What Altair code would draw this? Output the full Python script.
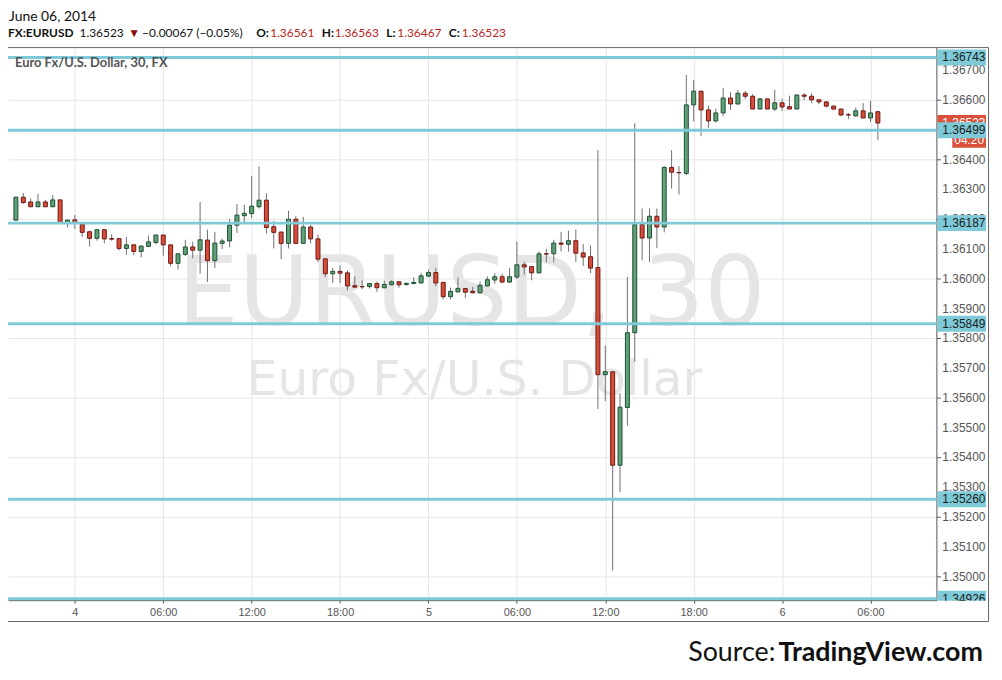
import altair as alt
import pandas as pd

# ---------------- data (EUR/USD, 30-minute candles) ----------------
candle_index = list(range(-8, 110))  # half-hours relative to June 4, 00:00

open_ = [1.36197, 1.36274, 1.36258, 1.36242, 1.36258, 1.36242, 1.36265, 1.36189,
         1.36198, 1.36184, 1.36158, 1.36136, 1.36165, 1.36135, 1.36135, 1.36102,
         1.36114, 1.36092, 1.36109, 1.36122, 1.36147, 1.36114, 1.36052, 1.36082,
         1.36107, 1.36096, 1.36130, 1.36061, 1.36119, 1.36127, 1.36180, 1.36212,
         1.36219, 1.36242, 1.36264, 1.36175, 1.36157, 1.36119, 1.36200, 1.36119,
         1.36174, 1.36134, 1.36067, 1.36017, 1.36025, 1.36020, 1.35977, 1.35974,
         1.35974, 1.35984, 1.35970, 1.35980, 1.35990, 1.35981, 1.35984, 1.35986,
         1.36009, 1.36021, 1.35988, 1.35940, 1.35956, 1.35967, 1.35958, 1.35953,
         1.35976, 1.35996, 1.36007, 1.35989, 1.36006, 1.36047, 1.36041, 1.36020,
         1.36084, 1.36084, 1.36120, 1.36116, 1.36128, 1.36087, 1.36074, 1.36038,
         1.35678, 1.35688, 1.35374, 1.35568, 1.35819, 1.36182, 1.36137, 1.36210,
         1.36174, 1.36374, 1.36357, 1.36354, 1.36584, 1.36630, 1.36567, 1.36530,
         1.36557, 1.36607, 1.36587, 1.36623, 1.36613, 1.36570, 1.36604, 1.36570,
         1.36591, 1.36578, 1.36570, 1.36617, 1.36613, 1.36601, 1.36594, 1.36580,
         1.36570, 1.36551, 1.36547, 1.36564, 1.36540, 1.36561]
high = [1.36276, 1.36288, 1.36270, 1.36285, 1.36265, 1.36281, 1.36265, 1.36198,
        1.36215, 1.36188, 1.36161, 1.36166, 1.36166, 1.36150, 1.36136, 1.36141,
        1.36115, 1.36111, 1.36145, 1.36148, 1.36148, 1.36115, 1.36085, 1.36131,
        1.36125, 1.36258, 1.36165, 1.36158, 1.36135, 1.36200, 1.36251, 1.36248,
        1.36345, 1.36378, 1.36287, 1.36195, 1.36158, 1.36228, 1.36211, 1.36208,
        1.36181, 1.36148, 1.36068, 1.36037, 1.36045, 1.36028, 1.36008, 1.35995,
        1.35985, 1.35991, 1.35994, 1.35995, 1.35991, 1.35986, 1.36005, 1.36020,
        1.36031, 1.36037, 1.35989, 1.35971, 1.36004, 1.35968, 1.35973, 1.35991,
        1.36008, 1.36019, 1.36017, 1.36036, 1.36125, 1.36057, 1.36043, 1.36092,
        1.36101, 1.36131, 1.36158, 1.36161, 1.36165, 1.36117, 1.36112, 1.36432,
        1.35776, 1.35688, 1.35616, 1.36006, 1.36522, 1.36236, 1.36236, 1.36236,
        1.36379, 1.36432, 1.36378, 1.36685, 1.36668, 1.36630, 1.36582, 1.36571,
        1.36641, 1.36627, 1.36634, 1.36631, 1.36620, 1.36608, 1.36605, 1.36635,
        1.36605, 1.36615, 1.36620, 1.36623, 1.36623, 1.36601, 1.36596, 1.36581,
        1.36571, 1.36557, 1.36575, 1.36590, 1.36598, 1.36563]
low = [1.36195, 1.36252, 1.36241, 1.36241, 1.36241, 1.36241, 1.36188, 1.36172,
       1.36167, 1.36141, 1.36108, 1.36128, 1.36119, 1.36128, 1.36095, 1.36081,
       1.36079, 1.36072, 1.36106, 1.36116, 1.36078, 1.36042, 1.36031, 1.36076,
       1.36069, 1.36017, 1.35989, 1.36036, 1.36100, 1.36106, 1.36154, 1.36189,
       1.36204, 1.36236, 1.36152, 1.36102, 1.36066, 1.36102, 1.36118, 1.36118,
       1.36119, 1.36056, 1.36006, 1.35986, 1.35986, 1.35961, 1.35970, 1.35965,
       1.35967, 1.35956, 1.35968, 1.35980, 1.35970, 1.35977, 1.35983, 1.35985,
       1.36006, 1.35975, 1.35931, 1.35931, 1.35955, 1.35936, 1.35951, 1.35951,
       1.35975, 1.35984, 1.35988, 1.35988, 1.35999, 1.36014, 1.35995, 1.36018,
       1.36055, 1.36055, 1.36092, 1.36091, 1.36057, 1.36043, 1.36019, 1.35563,
       1.35589, 1.35021, 1.35284, 1.35507, 1.35721, 1.36062, 1.36056, 1.36103,
       1.36156, 1.36303, 1.36283, 1.36348, 1.36529, 1.36479, 1.36506, 1.36525,
       1.36546, 1.36567, 1.36586, 1.36604, 1.36570, 1.36570, 1.36570, 1.36563,
       1.36563, 1.36570, 1.36570, 1.36600, 1.36590, 1.36587, 1.36575, 1.36566,
       1.36546, 1.36537, 1.36545, 1.36539, 1.36526, 1.36467]
close = [1.36274, 1.36256, 1.36242, 1.36258, 1.36242, 1.36265, 1.36189, 1.36197,
         1.36187, 1.36156, 1.36136, 1.36165, 1.36134, 1.36133, 1.36102, 1.36114,
         1.36092, 1.36110, 1.36124, 1.36147, 1.36114, 1.36052, 1.36084, 1.36107,
         1.36096, 1.36131, 1.36061, 1.36120, 1.36127, 1.36180, 1.36214, 1.36220,
         1.36244, 1.36264, 1.36172, 1.36156, 1.36119, 1.36200, 1.36119, 1.36174,
         1.36134, 1.36066, 1.36017, 1.36025, 1.36019, 1.35976, 1.35972, 1.35973,
         1.35984, 1.35970, 1.35981, 1.35990, 1.35980, 1.35985, 1.35988, 1.36010,
         1.36021, 1.35986, 1.35940, 1.35958, 1.35968, 1.35955, 1.35953, 1.35978,
         1.35997, 1.36007, 1.35989, 1.36007, 1.36047, 1.36040, 1.36020, 1.36084,
         1.36083, 1.36120, 1.36116, 1.36128, 1.36086, 1.36073, 1.36036, 1.35678,
         1.35688, 1.35374, 1.35569, 1.35819, 1.36182, 1.36137, 1.36210, 1.36174,
         1.36374, 1.36358, 1.36356, 1.36584, 1.36630, 1.36567, 1.36530, 1.36557,
         1.36607, 1.36587, 1.36623, 1.36613, 1.36570, 1.36604, 1.36570, 1.36591,
         1.36577, 1.36570, 1.36617, 1.36613, 1.36601, 1.36594, 1.36580, 1.36570,
         1.36550, 1.36550, 1.36564, 1.36540, 1.36557, 1.36523]

level_values = [1.36743, 1.36499, 1.36187, 1.35849, 1.35260, 1.34926]
level_labels = ["1.36743", "1.36499", "1.36187", "1.35849", "1.35260", "1.34926"]

y_tick_values = [1.350, 1.351, 1.352, 1.353, 1.354, 1.355, 1.356, 1.357, 1.358,
                 1.359, 1.360, 1.361, 1.362, 1.363, 1.364, 1.365, 1.366, 1.367]
y_tick_labels = ["1.35000", "1.35100", "1.35200", "1.35300", "1.35400", "1.35500",
                 "1.35600", "1.35700", "1.35800", "1.35900", "1.36000", "1.36100",
                 "1.36200", "1.36300", "1.36400", "1.36500", "1.36600", "1.36700"]
x_tick_values = [0, 12, 24, 36, 48, 60, 72, 84, 96, 108]
x_tick_labels = ["4", "06:00", "12:00", "18:00", "5", "06:00", "12:00", "18:00", "6", "06:00"]

last_price = [1.36523]
last_price_label = "1.36523"
countdown_label = "04:20"

date_text = "June 06, 2014"
# (text, x, bold, color)
header_segments = [
    ("FX:EURUSD", 0, True, "#111111"),
    ("1.36523", 72, False, "#111111"),
    ("\u25BC", 121, False, "#8b0a0a"),
    ("\u22120.00067 (\u22120.05%)", 135, False, "#111111"),
    ("O:", 250, True, "#111111"),
    ("1.36561", 264, False, "#b3261e"),
    ("H:", 316, True, "#111111"),
    ("1.36563", 329, False, "#b3261e"),
    ("L:", 381, True, "#111111"),
    ("1.36467", 392, False, "#b3261e"),
    ("C:", 444, True, "#111111"),
    ("1.36523", 457, False, "#b3261e"),
]
symbol_label = "Euro Fx/U.S. Dollar, 30, FX"
watermark_big = "EURUSD, 30"
watermark_small = "Euro Fx/U.S. Dollar"
source_plain = "Source:"
source_bold = "TradingView.com"

# ---------------- chart ----------------
W, H = 935, 557
GREEN, GREEN_EDGE = "#5fa078", "#1e5032"
RED, RED_EDGE = "#d64c3a", "#6e1912"
CYAN = "#7fcad8"
UI_FONT = "Lato"
AXIS_FONT = "Liberation Sans"

df = pd.DataFrame({"i": candle_index, "open": open_, "high": high, "low": low, "close": close})
df["dir"] = ["up" if c >= o else "down" for o, c in zip(open_, close)]
levels_df = pd.DataFrame({"level": level_values, "label": level_labels})
yticks_df = pd.DataFrame({"v": y_tick_values, "label": y_tick_labels})
price_df = pd.DataFrame({"price": last_price, "label": [last_price_label], "cd": [countdown_label]})
one = pd.DataFrame({"k": [0]})

xs = alt.Scale(domain=[-8.4, 116.27], nice=False, zero=False)
ys = alt.Scale(domain=[1.34921, 1.36778], nice=False, zero=False)

label_expr = "[" + ",".join("'" + s + "'" for s in x_tick_labels) + "][datum.value / 12]"

x_axis = alt.Axis(values=x_tick_values, labelExpr=label_expr, title=None, grid=True,
                  gridColor="#e6e6e6", domainColor="#555555", tickColor="#555555",
                  tickSize=3, labelPadding=3, labelFont=AXIS_FONT,
                  labelFontSize=11, labelColor="#555555", labelOverlap=False)
y_axis = alt.Axis(orient="right", values=y_tick_values, labels=False, title=None,
                  grid=True, gridColor="#e6e6e6", domainColor="#555555",
                  tickColor="#555555", tickSize=4)

color_fill = alt.Scale(domain=["up", "down"], range=[GREEN, RED])
color_edge = alt.Scale(domain=["up", "down"], range=[GREEN_EDGE, RED_EDGE])


def text_at(txt, x, y, size, color, weight="normal", font=UI_FONT, align="left",
            baseline="alphabetic"):
    return alt.Chart(one).mark_text(
        text=txt, align=align, baseline=baseline, fontSize=size, font=font,
        fontWeight=weight, color=color
    ).encode(x=alt.value(x), y=alt.value(y))


watermark1 = text_at(watermark_big, 467, 280, 97, "#e5e5e5", font="DejaVu Sans", align="center")
watermark2 = text_at(watermark_small, 470, 350, 49, "#e5e5e5", font="DejaVu Sans", align="center")

wicks = alt.Chart(df).mark_rule(color="#707070", strokeWidth=1).encode(
    x=alt.X("i:Q", scale=xs, axis=x_axis),
    y=alt.Y("low:Q", scale=ys, axis=y_axis),
    y2="high:Q",
)

bodies = alt.Chart(df).mark_bar(size=4, strokeWidth=1).encode(
    x=alt.X("i:Q", scale=xs),
    y=alt.Y("open:Q", scale=ys),
    y2="close:Q",
    fill=alt.Fill("dir:N", scale=color_fill, legend=None),
    stroke=alt.Stroke("dir:N", scale=color_edge, legend=None),
)

ytick_text = alt.Chart(yticks_df).mark_text(
    align="left", baseline="middle", font=AXIS_FONT, fontSize=12, color="#555555"
).encode(x=alt.value(941), y=alt.Y("v:Q", scale=ys), text="label:N")

level_lines = alt.Chart(levels_df).mark_rule(color=CYAN, strokeWidth=3).encode(
    y=alt.Y("level:Q", scale=ys)
)

price_box = alt.Chart(price_df).mark_rect(color="#d9503b", yOffset=-8, y2Offset=8).encode(
    x=alt.value(936), x2=alt.value(985),
    y=alt.Y("price:Q", scale=ys), y2="price:Q",
)
price_box2 = alt.Chart(price_df).mark_rect(color="#d9503b", yOffset=8, y2Offset=25).encode(
    x=alt.value(951), x2=alt.value(985),
    y=alt.Y("price:Q", scale=ys), y2="price:Q",
)
price_text = alt.Chart(price_df).mark_text(
    align="left", baseline="middle", font=AXIS_FONT, fontSize=12, color="white"
).encode(x=alt.value(941), y=alt.Y("price:Q", scale=ys), text="label:N")
price_text2 = alt.Chart(price_df).mark_text(
    align="left", baseline="middle", font=AXIS_FONT, fontSize=12, color="white", dy=17
).encode(x=alt.value(953), y=alt.Y("price:Q", scale=ys), text="cd:N")

level_boxes = alt.Chart(levels_df).mark_rect(color=CYAN, yOffset=-8, y2Offset=8).encode(
    x=alt.value(936), x2=alt.value(985),
    y=alt.Y("level:Q", scale=ys), y2="level:Q",
)
level_text = alt.Chart(levels_df).mark_text(
    align="left", baseline="middle", font=AXIS_FONT, fontSize=12, color="#1a1a1a"
).encode(x=alt.value(941), y=alt.Y("level:Q", scale=ys), text="label:N")

mask = alt.Chart(one).mark_rect(color="white").encode(
    x=alt.value(936), x2=alt.value(986), y=alt.value(557.5), y2=alt.value(577)
)
frame = alt.Chart(one).mark_rect(fillOpacity=0, stroke="#666666", strokeWidth=1).encode(
    x=alt.value(-0.5), x2=alt.value(987.5), y=alt.value(0.5), y2=alt.value(578.5)
)

texts = [text_at(date_text, 1, -26, 14, "#111111")]
for txt, xpos, bold, col in header_segments:
    texts.append(text_at(txt, xpos, -10, 12, col, weight="bold" if bold else "normal"))
texts.append(text_at(symbol_label, 7, 20, 13, "#555555", weight="bold"))
texts.append(text_at(source_plain, 685, 618, 27, "#111111"))
texts.append(text_at(source_bold, 776, 618, 27, "#111111", weight="bold"))

chart = alt.layer(
    watermark1, watermark2, wicks, bodies, ytick_text, level_lines,
    price_box, price_box2, price_text, price_text2,
    level_boxes, level_text, mask, frame, *texts
).properties(
    width=W, height=H, autosize="none",
    padding={"left": 0, "top": 37, "right": 58, "bottom": 75},
    background="white",
).configure_view(strokeWidth=0)

chart.save("out.html", embed_options={"renderer": "svg", "actions": False})
